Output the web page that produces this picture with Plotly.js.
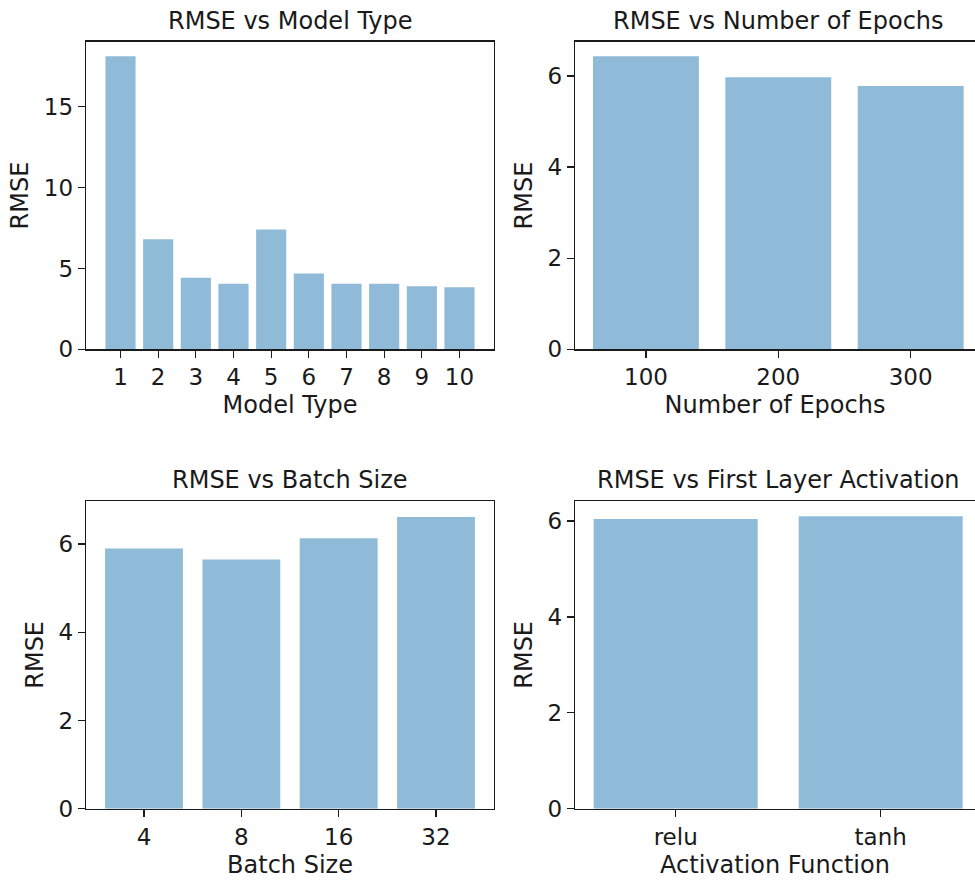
<!DOCTYPE html>
<html>
<head>
<meta charset="utf-8">
<script src="https://cdn.plot.ly/plotly-3.0.1.min.js"></script>
<style>html,body{margin:0;padding:0;background:#fff;}#chart{width:975px;height:882px;}</style>
</head>
<body>
<div id="chart"></div>
<script>
// ---- data ----
const modelTypes = [1, 2, 3, 4, 5, 6, 7, 8, 9, 10];
const modelRmse = [18.12, 6.80, 4.43, 4.06, 7.40, 4.68, 4.06, 4.06, 3.90, 3.83];

const epochLabels = ['100', '200', '300'];
const epochRmse = [6.43, 5.97, 5.78];

const batchLabels = ['4', '8', '16', '32'];
const batchRmse = [5.90, 5.65, 6.13, 6.61];

const activationLabels = ['relu', 'tanh'];
const activationRmse = [6.04, 6.10];

const panelTitles = ['RMSE vs Model Type', 'RMSE vs Number of Epochs', 'RMSE vs Batch Size', 'RMSE vs First Layer Activation'];
const xTitles = ['Model Type', 'Number of Epochs', 'Batch Size', 'Activation Function'];
const yTitle = 'RMSE';

// ---- style ----
const FONT = 'DejaVu Sans';
const FS = 23;
const FT = 24;
const BAR = 'rgba(31,119,180,0.5)';
const INK = '#1a1a1a';

function bar(x, y, xa, ya) {
  return {type: 'bar', x: x, y: y, xaxis: xa, yaxis: ya,
    marker: {color: BAR, line: {width: 0}}, hoverinfo: 'x+y', showlegend: false};
}

const data = [
  bar(modelTypes, modelRmse, 'x', 'y'),
  bar(epochLabels, epochRmse, 'x2', 'y2'),
  bar(batchLabels, batchRmse, 'x3', 'y3'),
  bar(activationLabels, activationRmse, 'x4', 'y4')
];

function xax(domain, range, title, extra, mirror) {
  return Object.assign({
    domain: domain, range: range, showgrid: false, zeroline: false,
    showline: true, mirror: mirror, linecolor: INK, linewidth: 1.3,
    ticks: 'outside', ticklen: 7, tickwidth: 1.3, tickcolor: INK,
    tickfont: {family: FONT, size: FS, color: INK},
    title: {text: title, font: {family: FONT, size: FT, color: INK}, standoff: 7},
    fixedrange: true
  }, extra);
}
function yax(domain, range, dtick, mirror) {
  return {
    domain: domain, range: range, dtick: dtick, tick0: 0, showgrid: false, zeroline: false,
    showline: true, mirror: mirror, linecolor: INK, linewidth: 1.3,
    ticks: 'outside', ticklen: 7, tickwidth: 1.3, tickcolor: INK,
    tickfont: {family: FONT, size: FS, color: INK},
    title: {text: yTitle, font: {family: FONT, size: FT, color: INK}, standoff: 8},
    fixedrange: true
  };
}

const xL = [86 / 975, 494 / 975];
const xR = [575 / 975, 1];
const yT = [(882 - 349.3) / 882, (882 - 41.7) / 882];
const yB = [(882 - 808.7) / 882, (882 - 501) / 882];

const titleX = [290 / 975, 778 / 975, 290 / 975, 778 / 975];
const titleY = [yT[1], yT[1], yB[1], yB[1]];

const layout = {
  width: 975, height: 882,
  margin: {l: 0, r: 0, t: 0, b: 0},
  paper_bgcolor: '#fff', plot_bgcolor: '#fff',
  bargap: 0.2,
  font: {family: FONT, size: FS, color: INK},
  xaxis: xax(xL, [0.084, 10.916], xTitles[0], {anchor: 'y', dtick: 1, tick0: 1}, true),
  yaxis: yax(yT, [0, 19.02], 5, true),
  xaxis2: xax(xR, [-0.536, 2.486], xTitles[1], {anchor: 'y2', type: 'category'}, true),
  yaxis2: Object.assign(yax(yT, [0, 6.75], 2, false), {anchor: 'x2'}),
  xaxis3: xax(xL, [-0.596, 3.596], xTitles[2], {anchor: 'y3', type: 'category'}, true),
  yaxis3: Object.assign(yax(yB, [0, 6.975], 2, true), {anchor: 'x3'}),
  xaxis4: xax(xR, [-0.491, 1.46], xTitles[3], {anchor: 'y4', type: 'category'}, true),
  yaxis4: Object.assign(yax(yB, [0, 6.418], 2, false), {anchor: 'x4'}),
  annotations: panelTitles.map((t, i) => ({
    text: t, xref: 'paper', yref: 'paper', x: titleX[i], y: titleY[i],
    xanchor: 'center', yanchor: 'bottom', yshift: 5, showarrow: false,
    font: {family: FONT, size: FT, color: INK}
  }))
};

Plotly.newPlot('chart', data, layout, {displayModeBar: false, staticPlot: true});
</script>
</body>
</html>
